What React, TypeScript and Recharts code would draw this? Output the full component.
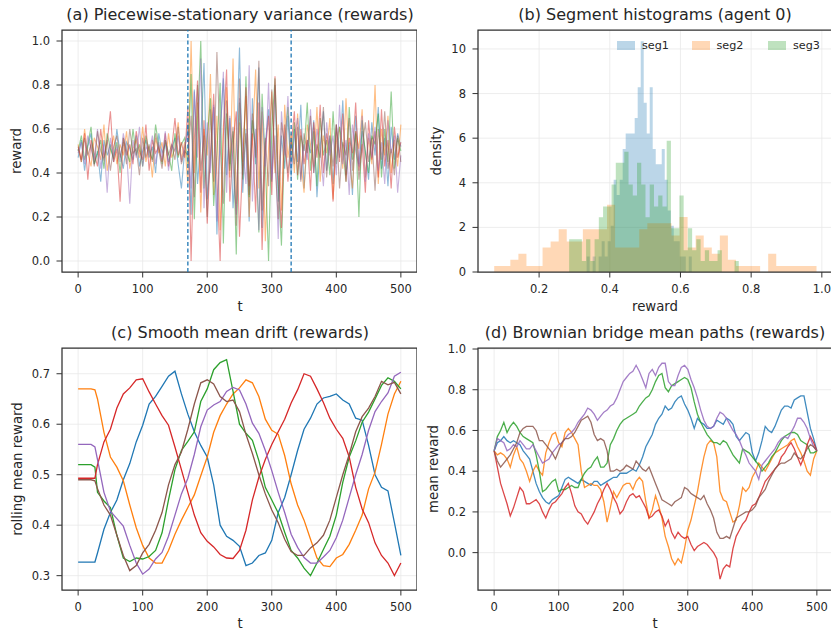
import React from "react";
import {
  LineChart,
  Line,
  ComposedChart,
  Area,
  XAxis,
  YAxis,
  CartesianGrid,
  ReferenceLine,
  ReferenceArea,
} from "recharts";

const COLORS = ["#1f77b4", "#ff7f0e", "#2ca02c", "#d62728", "#9467bd", "#8c564b"];
const FONT = "'DejaVu Sans', 'Liberation Sans', sans-serif";
const INK = "#262626";

// ---------- (a) piecewise-stationary rewards, one value every 5 steps ----------
const T_A = Array.from({ length: 101 }, (_, i) => i * 5);
const A_BLUE = [
  0.47, 0.55, 0.41, 0.52, 0.58, 0.44, 0.5, 0.36, 0.55, 0.48, 0.53, 0.45, 0.6, 0.49, 0.42, 0.54, 0.51, 0.46, 0.57, 0.43,
  0.5, 0.55, 0.47, 0.52, 0.4, 0.58, 0.49, 0.53, 0.45, 0.51, 0.56, 0.44, 0.33, 0.5,
  0.62, 0.21, 0.78, 0.35, 0.55, 0.9, 0.28, 0.46, 0.7, 0.12, 0.58, 0.83, 0.39, 0.65, 0.24, 0.5, 0.97, 0.31, 0.6, 0.18,
  0.74, 0.44, 0.88, 0.15, 0.53, 0.69, 0.36, 0.8, 0.27, 0.57, 0.42, 0.66,
  0.38, 0.6, 0.45, 0.71, 0.33, 0.55, 0.49, 0.64, 0.29, 0.52, 0.68, 0.41, 0.57, 0.35, 0.62, 0.47, 0.73, 0.39, 0.54, 0.3,
  0.66, 0.44, 0.59, 0.5, 0.37, 0.63, 0.48, 0.7, 0.42, 0.56, 0.34, 0.61, 0.46, 0.58, 0.52,
];
const A_ORANGE = [
  0.53, 0.45, 0.6, 0.49, 0.43, 0.56, 0.52, 0.46, 0.62, 0.41, 0.5, 0.57, 0.44, 0.53, 0.48, 0.59, 0.42, 0.51, 0.55, 0.47,
  0.61, 0.45, 0.52, 0.38, 0.56, 0.49, 0.54, 0.43, 0.58, 0.47, 0.51, 0.63, 0.46, 0.54,
  0.35, 1.0, 0.4, 0.72, 0.22, 0.6, 0.48, 0.85, 0.3, 0.66, 0.14, 0.57, 0.79, 0.38, 0.92, 0.26, 0.63, 0.45, 0.75, 0.2,
  0.55, 0.87, 0.33, 0.68, 0.09, 0.51, 0.77, 0.4, 0.62, 0.23, 0.71, 0.47,
  0.58, 0.4, 0.67, 0.46, 0.31, 0.62, 0.53, 0.43, 0.7, 0.36, 0.57, 0.49, 0.65, 0.28, 0.54, 0.61, 0.42, 0.74, 0.47, 0.33,
  0.59, 0.51, 0.69, 0.38, 0.56, 0.44, 0.8, 0.35, 0.6, 0.48, 0.66, 0.4, 0.55, 0.43, 0.62,
];
const A_GREEN = [
  0.5, 0.57, 0.46, 0.53, 0.61, 0.44, 0.49, 0.55, 0.42, 0.58, 0.51, 0.47, 0.54, 0.4, 0.56, 0.5, 0.45, 0.6, 0.48, 0.53,
  0.43, 0.57, 0.5, 0.46, 0.62, 0.52, 0.44, 0.55, 0.49, 0.41, 0.58, 0.47, 0.53, 0.56,
  0.44, 0.85, 0.19, 0.62, 1.0, 0.33, 0.56, 0.74, 0.25, 0.49, 0.81, 0.08, 0.67, 0.41, 0.59, 0.03, 0.72, 0.37, 0.84, 0.29,
  0.64, 0.51, 0.13, 0.76, 0.45, 0.0, 0.6, 0.83, 0.35, 0.07, 0.55, 0.7,
  0.45, 0.63, 0.37, 0.57, 0.5, 0.72, 0.41, 0.59, 0.34, 0.65, 0.48, 0.55, 0.39, 0.68, 0.44, 0.61, 0.52, 0.36, 0.7, 0.46,
  0.58, 0.2, 0.64, 0.49, 0.4, 0.57, 0.53, 0.67, 0.38, 0.6, 0.45, 0.77, 0.42, 0.56, 0.5,
];
const A_RED = [
  0.52, 0.46, 0.58, 0.37, 0.55, 0.49, 0.43, 0.6, 0.47, 0.54, 0.68, 0.45, 0.51, 0.27, 0.56, 0.48, 0.53, 0.44, 0.59, 0.5,
  0.46, 0.62, 0.41, 0.55, 0.49, 0.52, 0.45, 0.58, 0.43, 0.51, 0.65, 0.48, 0.54, 0.47,
  0.7, 0.0, 0.55, 0.82, 0.31, 0.64, 0.17, 0.49, 0.76, 0.38, 0.0, 0.61, 0.87, 0.27, 0.53, 0.68, 0.11, 0.45, 0.79, 0.34,
  0.58, 0.22, 0.72, 0.05, 0.5, 0.66, 0.3, 0.84, 0.4, 0.15, 0.62, 0.36,
  0.52, 0.68, 0.39, 0.6, 0.44, 0.55, 0.32, 0.63, 0.47, 0.71, 0.4, 0.58, 0.5, 0.27, 0.62, 0.45, 0.67, 0.36, 0.56, 0.49,
  0.72, 0.41, 0.53, 0.31, 0.64, 0.46, 0.59, 0.38, 0.69, 0.43, 0.55, 0.33, 0.61, 0.47, 0.54,
];
const A_PURPLE = [
  0.49, 0.54, 0.44, 0.57, 0.51, 0.46, 0.6, 0.42, 0.53, 0.31, 0.56, 0.48, 0.52, 0.45, 0.58, 0.5, 0.26, 0.55, 0.47, 0.61,
  0.43, 0.52, 0.49, 0.57, 0.44, 0.54, 0.46, 0.59, 0.41, 0.53, 0.5, 0.57, 0.45, 0.52,
  0.58, 0.33, 0.77, 0.47, 0.92, 0.24, 0.63, 0.4, 0.71, 0.18, 0.55, 0.86, 0.31, 0.66, 0.44, 0.21, 0.74, 0.52, 0.35, 0.89,
  0.27, 0.6, 0.14, 0.7, 0.43, 0.81, 0.37, 0.57, 0.1, 0.68, 0.48, 0.75,
  0.42, 0.56, 0.65, 0.37, 0.53, 0.46, 0.69, 0.4, 0.6, 0.51, 0.34, 0.63, 0.48, 0.57, 0.39, 0.71, 0.44, 0.55, 0.3, 0.62,
  0.5, 0.43, 0.66, 0.36, 0.58, 0.47, 0.61, 0.41, 0.54, 0.35, 0.64, 0.49, 0.57, 0.31, 0.48,
];
const A_BROWN = [
  0.51, 0.45, 0.56, 0.48, 0.53, 0.43, 0.59, 0.5, 0.46, 0.55, 0.41, 0.52, 0.57, 0.47, 0.54, 0.44, 0.6, 0.49, 0.51, 0.39,
  0.56, 0.47, 0.53, 0.45, 0.58, 0.5, 0.42, 0.55, 0.48, 0.53, 0.46, 0.61, 0.44, 0.5,
  0.48, 0.66, 0.29, 0.8, 0.41, 0.57, 0.2, 0.69, 0.36, 0.95, 0.52, 0.26, 0.73, 0.44, 0.61, 0.16, 0.83, 0.39, 0.58, 0.3,
  0.67, 0.47, 0.91, 0.23, 0.56, 0.34, 0.78, 0.45, 0.19, 0.63, 0.52, 0.4,
  0.55, 0.44, 0.61, 0.36, 0.58, 0.49, 0.66, 0.4, 0.53, 0.47, 0.7, 0.38, 0.57, 0.43, 0.62, 0.33, 0.54, 0.48, 0.65, 0.41,
  0.59, 0.37, 0.52, 0.63, 0.45, 0.56, 0.32, 0.6, 0.46, 0.68, 0.42, 0.51, 0.39, 0.57, 0.45,
];
const SERIES_A = [A_BLUE, A_ORANGE, A_GREEN, A_RED, A_PURPLE, A_BROWN];
const CHANGE_POINTS = [170, 330];

// ---------- (b) histograms of agent 0 per segment (density) ----------
const HIST_KEYS = ["seg1", "seg2", "seg3"];
const HIST_START = [0.3345, 0.073, 0.285];
const HIST_WIDTH = [0.0085, 0.0228, 0.012];
const SEG1_DENSITY = [
  0.69, 0, 0.69, 0, 0.69, 1.38, 0.69, 1.38, 2.07, 4.14, 3.45, 4.14, 5.52, 6.21, 6.21, 6.21, 6.9, 8.28, 10.35, 7.59,
  6.21, 8.28, 5.52, 4.83, 4.83, 5.52, 4.14, 2.76, 2.07, 1.38, 1.38, 0.69, 0.69, 0, 0.69, 0, 0, 0, 0, 0,
];
const SEG2_DENSITY = [
  0.27, 0.27, 0.55, 0.82, 0.27, 0.27, 1.1, 1.37, 1.92, 1.37, 1.37, 1.92, 1.92, 1.92, 3.01, 1.1, 1.1, 1.1, 1.92, 2.19,
  2.19, 2.19, 1.64, 2.47, 1.1, 1.64, 1.1, 0.82, 1.64, 0.55, 0.27, 0.27, 0.27, 0, 0.82, 0.27, 0.27, 0.27, 0.27, 0.27,
];
const SEG3_DENSITY = [
  1.47, 1.47, 1.47, 0.49, 1.47, 0.49, 1.47, 2.45, 2.94, 2.94, 3.92, 4.9, 4.9, 5.39, 3.92, 3.43, 4.9, 3.92, 2.45, 3.92,
  2.94, 3.43, 2.94, 5.88, 1.96, 1.96, 3.43, 0.98, 1.96, 0.98, 1.47, 0.49, 0.98, 0.49, 0.49, 0.98, 0, 0, 0, 0.49,
];
const HIST_DENSITY = [SEG1_DENSITY, SEG2_DENSITY, SEG3_DENSITY];

// ---------- (c) rolling mean of smoothly drifting rewards ----------
const T_C = [0, 10, 20, 26, 30, 40, 50, 60, 70, 80, 90, 100, 110, 120, 130, 140, 150, 160, 170, 180, 190, 200, 210, 220,
  230, 240, 250, 260, 270, 280, 290, 300, 310, 320, 330, 340, 350, 360, 370, 380, 390, 400, 410, 420, 430, 440, 450,
  460, 470, 480, 490, 500];
const C_BLUE = [0.327, 0.327, 0.327, 0.327, 0.345, 0.392, 0.425, 0.45, 0.49, 0.522, 0.565, 0.598, 0.64, 0.655, 0.675,
  0.695, 0.705, 0.66, 0.62, 0.585, 0.558, 0.535, 0.48, 0.4, 0.378, 0.37, 0.358, 0.32, 0.325, 0.34, 0.345, 0.37, 0.425,
  0.455, 0.5, 0.548, 0.59, 0.612, 0.64, 0.652, 0.655, 0.66, 0.648, 0.64, 0.612, 0.608, 0.558, 0.5, 0.475, 0.468, 0.405, 0.34];
const C_ORANGE = [0.67, 0.67, 0.67, 0.668, 0.65, 0.584, 0.535, 0.515, 0.488, 0.44, 0.395, 0.36, 0.335, 0.325, 0.325,
  0.35, 0.382, 0.41, 0.435, 0.46, 0.498, 0.535, 0.584, 0.617, 0.64, 0.66, 0.672, 0.688, 0.682, 0.655, 0.61, 0.588, 0.58,
  0.538, 0.482, 0.44, 0.41, 0.372, 0.335, 0.32, 0.318, 0.335, 0.342, 0.362, 0.39, 0.42, 0.472, 0.505, 0.56, 0.62, 0.66, 0.685];
const C_GREEN = [0.52, 0.52, 0.52, 0.515, 0.465, 0.448, 0.435, 0.38, 0.335, 0.328, 0.335, 0.333, 0.338, 0.35, 0.385,
  0.45, 0.51, 0.548, 0.566, 0.585, 0.645, 0.67, 0.708, 0.722, 0.728, 0.665, 0.6, 0.582, 0.568, 0.528, 0.475, 0.45, 0.424,
  0.386, 0.35, 0.335, 0.315, 0.3, 0.325, 0.352, 0.378, 0.42, 0.485, 0.535, 0.567, 0.604, 0.624, 0.65, 0.677, 0.692, 0.685, 0.67];
const C_RED = [0.493, 0.493, 0.493, 0.493, 0.52, 0.565, 0.59, 0.632, 0.66, 0.672, 0.688, 0.69, 0.664, 0.64, 0.617,
  0.598, 0.555, 0.51, 0.465, 0.42, 0.385, 0.368, 0.357, 0.342, 0.335, 0.334, 0.35, 0.39, 0.45, 0.495, 0.53, 0.56, 0.585,
  0.61, 0.642, 0.668, 0.7, 0.695, 0.67, 0.643, 0.612, 0.59, 0.572, 0.535, 0.475, 0.432, 0.405, 0.365, 0.34, 0.325, 0.3, 0.325];
const C_PURPLE = [0.56, 0.56, 0.56, 0.555, 0.53, 0.465, 0.428, 0.413, 0.398, 0.36, 0.325, 0.303, 0.313, 0.333, 0.346,
  0.378, 0.42, 0.462, 0.493, 0.54, 0.595, 0.628, 0.638, 0.645, 0.665, 0.673, 0.668, 0.64, 0.602, 0.582, 0.548, 0.508,
  0.465, 0.425, 0.382, 0.356, 0.336, 0.325, 0.325, 0.337, 0.35, 0.375, 0.41, 0.455, 0.5, 0.54, 0.588, 0.625, 0.645, 0.662, 0.695, 0.703];
const C_BROWN = [0.49, 0.49, 0.49, 0.488, 0.472, 0.44, 0.42, 0.38, 0.34, 0.31, 0.32, 0.345, 0.362, 0.39, 0.425, 0.48,
  0.52, 0.545, 0.59, 0.64, 0.682, 0.688, 0.68, 0.655, 0.645, 0.648, 0.625, 0.58, 0.542, 0.5, 0.462, 0.43, 0.405, 0.372,
  0.348, 0.34, 0.34, 0.355, 0.365, 0.38, 0.41, 0.455, 0.5, 0.54, 0.585, 0.615, 0.632, 0.655, 0.685, 0.678, 0.683, 0.66];
const SERIES_C = [C_BLUE, C_ORANGE, C_GREEN, C_RED, C_PURPLE, C_BROWN];

// ---------- (d) Brownian bridge mean paths, one value every 5 steps ----------
const T_D = Array.from({ length: 101 }, (_, i) => i * 5);
const D_BLUE = [0.5, 0.54, 0.55, 0.57, 0.55, 0.54, 0.55, 0.54, 0.53, 0.5, 0.48, 0.46, 0.4, 0.34, 0.3, 0.27, 0.25, 0.24,
  0.26, 0.27, 0.28, 0.32, 0.36, 0.37, 0.36, 0.35, 0.34, 0.36, 0.35, 0.34, 0.33, 0.35, 0.35, 0.33, 0.34, 0.35, 0.36, 0.37,
  0.37, 0.39, 0.39, 0.39, 0.4, 0.41, 0.4, 0.43, 0.47, 0.52, 0.55, 0.58, 0.63, 0.66, 0.68, 0.72, 0.7, 0.71, 0.74, 0.76,
  0.77, 0.73, 0.7, 0.66, 0.61, 0.66, 0.64, 0.63, 0.61, 0.61, 0.62, 0.65, 0.64, 0.63, 0.66, 0.65, 0.63, 0.57, 0.55, 0.57,
  0.59, 0.58, 0.49, 0.45, 0.49, 0.55, 0.62, 0.6, 0.59, 0.62, 0.66, 0.7, 0.72, 0.72, 0.71, 0.75, 0.76, 0.77, 0.77, 0.69,
  0.61, 0.56, 0.5];
const D_ORANGE = [0.5, 0.48, 0.49, 0.48, 0.46, 0.42, 0.48, 0.52, 0.46, 0.44, 0.4, 0.35, 0.4, 0.43, 0.4, 0.38, 0.49, 0.54,
  0.58, 0.59, 0.54, 0.52, 0.59, 0.61, 0.59, 0.56, 0.53, 0.4, 0.32, 0.33, 0.34, 0.33, 0.33, 0.31, 0.25, 0.15, 0.22, 0.3,
  0.27, 0.3, 0.33, 0.34, 0.34, 0.31, 0.35, 0.37, 0.35, 0.25, 0.17, 0.21, 0.28, 0.23, 0.17, 0.08, 0.03, -0.03, -0.06,
  -0.03, -0.05, 0.02, 0.11, 0.16, 0.23, 0.3, 0.39, 0.47, 0.53, 0.55, 0.54, 0.47, 0.3, 0.26, 0.25, 0.2, 0.15, 0.16, 0.23,
  0.32, 0.3, 0.32, 0.37, 0.4, 0.44, 0.42, 0.4, 0.43, 0.46, 0.49, 0.5, 0.51, 0.52, 0.53, 0.55, 0.56, 0.52, 0.49, 0.45,
  0.4, 0.38, 0.46, 0.5];
const D_GREEN = [0.5, 0.57, 0.6, 0.64, 0.59, 0.62, 0.64, 0.62, 0.59, 0.57, 0.56, 0.55, 0.54, 0.48, 0.4, 0.3, 0.31, 0.33,
  0.35, 0.36, 0.3, 0.31, 0.31, 0.32, 0.33, 0.32, 0.32, 0.36, 0.39, 0.41, 0.42, 0.45, 0.47, 0.42, 0.42, 0.44, 0.53, 0.56,
  0.6, 0.63, 0.65, 0.66, 0.67, 0.68, 0.69, 0.72, 0.74, 0.76, 0.77, 0.8, 0.84, 0.87, 0.88, 0.81, 0.79, 0.82, 0.83, 0.84,
  0.85, 0.86, 0.85, 0.81, 0.74, 0.68, 0.64, 0.61, 0.58, 0.56, 0.54, 0.54, 0.53, 0.55, 0.54, 0.51, 0.48, 0.46, 0.44, 0.51,
  0.5, 0.49, 0.47, 0.45, 0.43, 0.4, 0.42, 0.44, 0.47, 0.49, 0.52, 0.55, 0.57, 0.58, 0.59, 0.59, 0.58, 0.55, 0.54, 0.53,
  0.49, 0.49, 0.5];
const D_RED = [0.5, 0.42, 0.34, 0.29, 0.24, 0.18, 0.22, 0.27, 0.32, 0.3, 0.24, 0.24, 0.25, 0.26, 0.24, 0.2, 0.17, 0.21,
  0.24, 0.25, 0.27, 0.29, 0.32, 0.34, 0.29, 0.23, 0.2, 0.19, 0.16, 0.14, 0.17, 0.2, 0.24, 0.27, 0.31, 0.34, 0.31, 0.27,
  0.24, 0.19, 0.21, 0.25, 0.28, 0.29, 0.27, 0.28, 0.25, 0.22, 0.17, 0.18, 0.2, 0.21, 0.18, 0.13, 0.16, 0.1, 0.07, 0.1,
  0.08, 0.07, 0.08, 0.04, 0.01, 0.03, 0.04, 0.05, 0.04, 0.02, 0.0, -0.03, -0.13, -0.08, -0.06, -0.07, 0.02, 0.08, 0.11,
  0.14, 0.16, 0.2, 0.23, 0.24, 0.27, 0.31, 0.35, 0.37, 0.39, 0.41, 0.43, 0.47, 0.49, 0.52, 0.54, 0.51, 0.47, 0.43, 0.47,
  0.53, 0.57, 0.54, 0.5];
const D_PURPLE = [0.5, 0.56, 0.55, 0.54, 0.5, 0.51, 0.53, 0.52, 0.55, 0.53, 0.51, 0.51, 0.53, 0.5, 0.47, 0.44, 0.45, 0.46,
  0.49, 0.51, 0.53, 0.54, 0.56, 0.58, 0.59, 0.61, 0.64, 0.66, 0.68, 0.71, 0.7, 0.68, 0.65, 0.67, 0.69, 0.7, 0.72, 0.73,
  0.76, 0.8, 0.84, 0.86, 0.88, 0.89, 0.92, 0.89, 0.85, 0.81, 0.88, 0.9, 0.87, 0.91, 0.93, 0.93, 0.84, 0.82, 0.82, 0.87,
  0.91, 0.92, 0.9, 0.85, 0.81, 0.76, 0.7, 0.65, 0.62, 0.61, 0.62, 0.66, 0.69, 0.68, 0.66, 0.63, 0.6, 0.58, 0.55, 0.51,
  0.48, 0.44, 0.42, 0.4, 0.36, 0.43, 0.45, 0.47, 0.49, 0.51, 0.54, 0.56, 0.57, 0.56, 0.59, 0.62, 0.66, 0.66, 0.64, 0.61,
  0.56, 0.52, 0.5];
const D_BROWN = [0.5, 0.45, 0.42, 0.44, 0.46, 0.48, 0.51, 0.54, 0.59, 0.61, 0.62, 0.62, 0.62, 0.6, 0.55, 0.55, 0.53, 0.51,
  0.49, 0.46, 0.5, 0.54, 0.56, 0.56, 0.57, 0.59, 0.62, 0.65, 0.66, 0.67, 0.64, 0.58, 0.55, 0.56, 0.55, 0.5, 0.4, 0.4,
  0.41, 0.4, 0.41, 0.43, 0.42, 0.41, 0.45, 0.43, 0.41, 0.4, 0.42, 0.38, 0.34, 0.3, 0.26, 0.25, 0.24, 0.23, 0.25, 0.26,
  0.27, 0.32, 0.31, 0.29, 0.28, 0.27, 0.26, 0.28, 0.24, 0.21, 0.17, 0.1, 0.07, 0.07, 0.08, 0.07, 0.12, 0.17, 0.18, 0.19,
  0.2, 0.2, 0.21, 0.23, 0.27, 0.29, 0.31, 0.35, 0.38, 0.41, 0.43, 0.44, 0.44, 0.45, 0.46, 0.49, 0.47, 0.46, 0.48, 0.51,
  0.53, 0.52, 0.5];
const SERIES_D = [D_BLUE, D_ORANGE, D_GREEN, D_RED, D_PURPLE, D_BROWN];

// axis ticks
const T_TICKS = [0, 100, 200, 300, 400, 500];
const A_YTICKS = [0, 0.2, 0.4, 0.6, 0.8, 1.0];
const B_XTICKS = [0.2, 0.4, 0.6, 0.8, 1.0];
const B_YTICKS = [0, 2, 4, 6, 8, 10];
const C_YTICKS = [0.3, 0.4, 0.5, 0.6, 0.7];
const D_YTICKS = [0.0, 0.2, 0.4, 0.6, 0.8, 1.0];

const toRows = (ts: number[], series: number[][]) =>
  ts.map((t, i) => {
    const row: Record<string, number> = { t };
    series.forEach((s, k) => (row[`s${k}`] = s[i]));
    return row;
  });

// merged step table for the three histograms (bin left edges + closing edge)
const histRows = () => {
  const byX = new Map<number, Record<string, number>>();
  const put = (x: number, key: string, v: number) => {
    const kx = +x.toFixed(5);
    const row = byX.get(kx) || { x: kx };
    row[key] = v;
    byX.set(kx, row);
  };
  HIST_KEYS.forEach((key, s) => {
    const h = HIST_DENSITY[s];
    h.forEach((v, k) => put(HIST_START[s] + k * HIST_WIDTH[s], key, v));
    put(HIST_START[s] + h.length * HIST_WIDTH[s], key, h[h.length - 1]);
  });
  return Array.from(byX.values()).sort((a, b) => a.x - b.x);
};

const ROWS_A = toRows(T_A, SERIES_A);
const ROWS_C = toRows(T_C, SERIES_C);
const ROWS_D = toRows(T_D, SERIES_D);
const ROWS_B = histRows();

// layout: every plot area is 355 px wide, with 62 px for y ticks and 30 px above / below
const CHART_W = 417;
const tickStyle = { fontSize: 11.5, fill: INK, fontFamily: FONT };
const f1 = (v: number) => v.toFixed(1);

const Frame = ({ x, y }: { x: number[]; y: number[] }) => (
  <ReferenceArea x1={x[0]} x2={x[1]} y1={y[0]} y2={y[1]} fill="none" stroke="#333" strokeWidth={1.25} />
);

function Text({ x, y, size, rotate, children }: any) {
  return (
    <div
      style={{
        position: "absolute",
        left: x,
        top: y,
        transform: `translate(-50%, -50%)${rotate ? " rotate(-90deg)" : ""}`,
        fontFamily: FONT,
        fontSize: size,
        color: INK,
        whiteSpace: "nowrap",
        lineHeight: 1,
      }}
    >
      {children}
    </div>
  );
}

function LinePanel({ rows, n, xDomain, yDomain, yTicks, opacity, width, refLines }: any) {
  const plotH = 242;
  return (
    <LineChart width={CHART_W} height={plotH + 60} data={rows} margin={{ top: 30, right: 0, bottom: 0, left: 0 }}>
      <CartesianGrid stroke="#e8e8e8" strokeWidth={0.8} />
      <XAxis
        dataKey="t"
        type="number"
        domain={xDomain}
        ticks={T_TICKS}
        allowDataOverflow
        height={30}
        axisLine={false}
        tickSize={5.5}
        tickMargin={7}
        tickLine={{ stroke: "#333" }}
        tick={tickStyle}
      />
      <YAxis
        type="number"
        domain={yDomain}
        ticks={yTicks}
        allowDataOverflow
        width={62}
        axisLine={false}
        tickSize={5.5}
        tickMargin={6.5}
        tickLine={{ stroke: "#333" }}
        tick={tickStyle}
        tickFormatter={f1}
      />
      {Array.from({ length: n }, (_, k) => (
        <Line
          key={k}
          dataKey={`s${k}`}
          stroke={COLORS[k]}
          strokeOpacity={opacity}
          strokeWidth={width}
          dot={false}
          activeDot={false}
          isAnimationActive={false}
        />
      ))}
      {(refLines || []).map((x: number) => (
        <ReferenceLine key={x} x={x} stroke="#1f77b4" strokeWidth={1.3} strokeDasharray="4 2.5" />
      ))}
      <Frame x={xDomain} y={yDomain} />
    </LineChart>
  );
}

const HIST_X: [number, number] = [0.0271, 1.0316];
const HIST_Y: [number, number] = [0, 10.85];

function HistPanel() {
  return (
    <ComposedChart width={CHART_W} height={302} data={ROWS_B} margin={{ top: 30, right: 0, bottom: 0, left: 0 }}>
      <CartesianGrid stroke="#e8e8e8" strokeWidth={0.8} />
      <XAxis
        dataKey="x"
        type="number"
        domain={HIST_X}
        ticks={B_XTICKS}
        allowDataOverflow
        height={30}
        axisLine={false}
        tickSize={5.5}
        tickMargin={7}
        tickLine={{ stroke: "#333" }}
        tick={tickStyle}
        tickFormatter={f1}
      />
      <YAxis
        type="number"
        domain={HIST_Y}
        ticks={B_YTICKS}
        allowDataOverflow
        width={62}
        axisLine={false}
        tickSize={5.5}
        tickMargin={6.5}
        tickLine={{ stroke: "#333" }}
        tick={tickStyle}
      />
      {HIST_KEYS.map((key, k) => (
        <Area
          key={key}
          dataKey={key}
          type="stepAfter"
          connectNulls
          stroke="none"
          fill={COLORS[k]}
          fillOpacity={0.3}
          dot={false}
          activeDot={false}
          isAnimationActive={false}
        />
      ))}
      <Frame x={HIST_X} y={HIST_Y} />
    </ComposedChart>
  );
}

function HistLegend() {
  const items = [
    { x: 617, label: "seg1" },
    { x: 691.5, label: "seg2" },
    { x: 768, label: "seg3" },
  ];
  return (
    <>
      {items.map((it, k) => (
        <div key={it.label} style={{ position: "absolute", left: it.x, top: 40.5, display: "flex", alignItems: "center" }}>
          <div style={{ width: 18, height: 9.5, background: COLORS[k], opacity: 0.3 }} />
          <span style={{ marginLeft: 7, fontFamily: FONT, fontSize: 11.2, color: INK, lineHeight: "9.5px" }}>{it.label}</span>
        </div>
      ))}
    </>
  );
}

export default function App() {
  return (
    <div style={{ position: "absolute", left: 0, top: 0, width: 831, height: 635, overflow: "hidden", background: "#fff" }}>
      <div style={{ position: "absolute", left: 0, top: 0 }}>
        <LinePanel rows={ROWS_A} n={6} xDomain={[-25, 525]} yDomain={[-0.05, 1.05]} yTicks={A_YTICKS} opacity={0.5} width={1.1} refLines={CHANGE_POINTS} />
      </div>
      <div style={{ position: "absolute", left: 415.9, top: 0 }}>
        <HistPanel />
      </div>
      <div style={{ position: "absolute", left: 0, top: 317.7 }}>
        <LinePanel rows={ROWS_C} n={6} xDomain={[-25, 525]} yDomain={[0.2716, 0.751]} yTicks={C_YTICKS} opacity={1} width={1.3} />
      </div>
      <div style={{ position: "absolute", left: 415.9, top: 317.7 }}>
        <LinePanel rows={ROWS_D} n={6} xDomain={[-25, 525]} yDomain={[-0.1835, 1.005]} yTicks={D_YTICKS} opacity={0.85} width={1.3} />
      </div>

      <HistLegend />

      <Text x={240} y={15} size={16}>(a) Piecewise-stationary variance (rewards)</Text>
      <Text x={655} y={15} size={16}>(b) Segment histograms (agent 0)</Text>
      <Text x={240} y={332.5} size={16}>(c) Smooth mean drift (rewards)</Text>
      <Text x={655} y={332.5} size={16}>(d) Brownian bridge mean paths (rewards)</Text>

      <Text x={240} y={307} size={13.3}>t</Text>
      <Text x={655} y={307} size={13.3}>reward</Text>
      <Text x={240} y={624} size={13.3}>t</Text>
      <Text x={655} y={624} size={13.3}>t</Text>

      <Text x={17} y={151} size={13.3} rotate>reward</Text>
      <Text x={437} y={151} size={13.3} rotate>density</Text>
      <Text x={18} y={468.5} size={13.3} rotate>rolling mean reward</Text>
      <Text x={434} y={468.5} size={13.3} rotate>mean reward</Text>
    </div>
  );
}
